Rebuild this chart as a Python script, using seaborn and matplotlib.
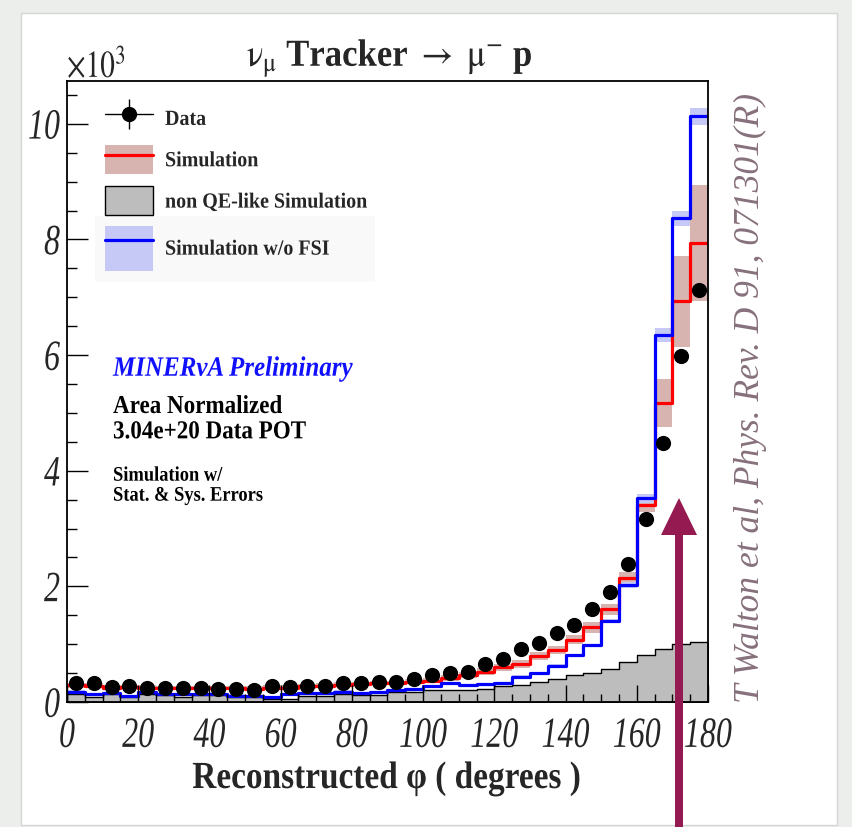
import numpy as np
import matplotlib
matplotlib.use("Agg")
import matplotlib.pyplot as plt
import seaborn as sns
from matplotlib.patches import Patch, Rectangle, Polygon
from matplotlib.lines import Line2D
from matplotlib.legend_handler import HandlerTuple
from matplotlib.patheffects import AbstractPathEffect
from matplotlib.transforms import Affine2D
from matplotlib.ticker import MultipleLocator

# --- values (units of 10^3 events per 5 degree bin) ---
bin_width = 5
bin_lo = np.arange(0, 180, bin_width)
bin_edges = [float(e) for e in np.append(bin_lo, 180)]
bin_centers = bin_lo + bin_width / 2

data_vals = [0.33, 0.32, 0.26, 0.28, 0.25, 0.24, 0.24, 0.24, 0.22, 0.22,
             0.21, 0.27, 0.26, 0.27, 0.28, 0.33, 0.32, 0.35, 0.35, 0.39,
             0.46, 0.50, 0.52, 0.65, 0.74, 0.92, 1.02, 1.19, 1.33, 1.61,
             1.90, 2.38, 3.17, 4.48, 5.99, 7.12]
sim_vals = [0.29, 0.28, 0.25, 0.26, 0.25, 0.24, 0.24, 0.24, 0.24, 0.24,
            0.23, 0.25, 0.25, 0.27, 0.28, 0.30, 0.31, 0.33, 0.33, 0.35,
            0.37, 0.41, 0.47, 0.52, 0.60, 0.66, 0.79, 0.90, 1.08, 1.29,
            1.60, 2.15, 3.40, 5.17, 6.93, 7.94]
sim_err = [0.04, 0.04, 0.04, 0.04, 0.04, 0.04, 0.04, 0.04, 0.04, 0.04,
           0.04, 0.04, 0.04, 0.04, 0.04, 0.04, 0.04, 0.04, 0.04, 0.04,
           0.05, 0.05, 0.05, 0.06, 0.06, 0.07, 0.07, 0.07, 0.08, 0.09,
           0.10, 0.10, 0.12, 0.42, 0.79, 1.00]
nofsi_vals = [0.18, 0.13, 0.15, 0.10, 0.17, 0.14, 0.13, 0.14, 0.13, 0.11,
              0.10, 0.08, 0.13, 0.16, 0.16, 0.18, 0.16, 0.17, 0.21, 0.23,
              0.28, 0.33, 0.29, 0.31, 0.33, 0.44, 0.50, 0.63, 0.81, 0.99,
              1.40, 2.02, 3.52, 6.34, 8.37, 10.13]
nofsi_err = [0.02, 0.02, 0.02, 0.02, 0.02, 0.02, 0.02, 0.02, 0.02, 0.02,
             0.02, 0.02, 0.02, 0.02, 0.02, 0.02, 0.02, 0.02, 0.02, 0.02,
             0.02, 0.02, 0.02, 0.02, 0.02, 0.02, 0.02, 0.02, 0.02, 0.02,
             0.03, 0.05, 0.08, 0.12, 0.13, 0.15]
nonqe_vals = [0.14, 0.09, 0.14, 0.08, 0.13, 0.12, 0.09, 0.12, 0.12, 0.09,
              0.09, 0.05, 0.06, 0.11, 0.11, 0.13, 0.12, 0.12, 0.17, 0.17,
              0.20, 0.20, 0.21, 0.22, 0.27, 0.30, 0.34, 0.39, 0.46, 0.50,
              0.57, 0.69, 0.81, 0.92, 1.00, 1.03]

legend_labels = ["Data", "Simulation", "non QE-like Simulation", "Simulation w/o FSI"]

RED, BLUE = "#ff0000", "#0000ff"
PINK, LIGHTBLUE, GRAY = "#d8b4b0", "#c6c8f6", "#bdbdbd"
SERIF = "Liberation Serif"


class Stretch(AbstractPathEffect):
    """stretch glyphs vertically (the slide was squeezed sideways)"""
    def __init__(self, sy=1.2, cy=0.0):
        super().__init__()
        self.sy, self.cy = sy, cy

    def draw_path(self, renderer, gc, tpath, affine, rgbFace=None):
        pre = Affine2D().translate(0, -self.cy).scale(1, self.sy).translate(0, self.cy)
        renderer.draw_path(gc, tpath, pre + affine, rgbFace)


sns.set_style("ticks")
plt.rcParams["font.family"] = [SERIF, "DejaVu Serif"]
plt.rcParams["mathtext.fontset"] = "stix"

W, H = 853, 828
fig = plt.figure(figsize=(W / 100, H / 100), dpi=100)
fig.patch.set_facecolor("#eceeec")
fig.add_artist(Rectangle((21 / W, 2 / H), (837 - 21) / W, (814 - 2) / H,
                         transform=fig.transFigure, facecolor="white",
                         edgecolor="#d4d6d4", linewidth=1.0, zorder=0))

ax = fig.add_axes([67 / W, (H - 703) / H, (708 - 67) / W, (703 - 82) / H])
ax.set_facecolor("white")

d = np.array(data_vals)
s, se = np.array(sim_vals), np.array(sim_err)
f, fe = np.array(nofsi_vals), np.array(nofsi_err)

# error bands (one box per bin)
ax.bar(bin_centers, 2 * se, bottom=s - se, width=bin_width, color=PINK, linewidth=0, zorder=1)
ax.bar(bin_centers, 2 * fe, bottom=f - fe, width=bin_width, color=LIGHTBLUE, linewidth=0, zorder=1)

sns.histplot(x=bin_centers, weights=nonqe_vals, bins=bin_edges, element="step", fill=True,
             color=GRAY, edgecolor="black", linewidth=1.0, alpha=1, ax=ax, zorder=1.5)
sns.histplot(x=bin_centers, weights=sim_vals, bins=bin_edges, element="step", fill=False,
             color=RED, linewidth=2.3, ax=ax, zorder=2)
sns.histplot(x=bin_centers, weights=nofsi_vals, bins=bin_edges, element="step", fill=False,
             color=BLUE, linewidth=2.3, ax=ax, zorder=2.1)
sns.scatterplot(x=bin_centers, y=d, color="black", s=120, linewidth=0, ax=ax, zorder=5)

ax.set_xlim(0, 180)
ax.set_ylim(0, 10.74)
ax.set_xlabel("")
ax.set_ylabel("")
ax.set_axisbelow(False)
ax.xaxis.set_major_locator(MultipleLocator(20))
ax.xaxis.set_minor_locator(MultipleLocator(5))
ax.yaxis.set_major_locator(MultipleLocator(2))
ax.yaxis.set_minor_locator(MultipleLocator(0.5))
ax.tick_params(axis="both", which="both", direction="in", top=False, right=False,
               width=1.0, color="black", labelsize=23)
ax.tick_params(axis="y", which="major", length=15, pad=5)
ax.tick_params(axis="y", which="minor", length=7.5)
ax.tick_params(axis="x", which="major", length=12, pad=11)
ax.tick_params(axis="x", which="minor", length=6)
for sp in ax.spines.values():
    sp.set_linewidth(1.3)
    sp.set_color("black")
    sp.set_visible(True)
for lab in ax.get_xticklabels():
    lab.set_fontstyle("italic")
    lab.set_path_effects([Stretch(1.35, 68)])
for lab in ax.get_yticklabels():
    lab.set_fontstyle("italic")
    lab.set_path_effects([Stretch(1.35, 34)])

# legend
leg_prop = dict(family=SERIF, weight="bold", size=14.4)
h_data = (Line2D([], [], color="black", lw=1.0),
          Line2D([], [], color="black", marker="o", ms=10, ls="none"),
          Line2D([], [], color="black", marker="|", ms=21, mew=1.0, ls="none"))
h_sim = (Patch(facecolor=PINK, edgecolor="none"), Line2D([], [], color=RED, lw=2.3))
h_bkg = Patch(facecolor=GRAY, edgecolor="black", linewidth=1.0)
h_fsi = (Patch(facecolor=LIGHTBLUE, edgecolor="none"), Line2D([], [], color=BLUE, lw=2.3))
overlay = {tuple: HandlerTuple(ndivide=1, pad=0)}

leg1 = ax.legend([h_data, h_sim, h_bkg], legend_labels[:3], loc="upper left",
                 bbox_to_anchor=(0.0593, 0.9638), borderaxespad=0, borderpad=0,
                 frameon=False, prop=leg_prop, handlelength=2.4, handleheight=1.85,
                 labelspacing=0.62, handletextpad=0.6, handler_map=overlay)
ax.add_artist(leg1)
ax.add_patch(Rectangle((0.0437, 0.6763), 0.437, 0.1063, transform=ax.transAxes,
                       facecolor="#f9f9f9", edgecolor="none", zorder=0.5))
leg2 = ax.legend([h_fsi], legend_labels[3:], loc="upper left",
                 bbox_to_anchor=(0.0593, 0.7665), borderaxespad=0, borderpad=0,
                 frameon=False, prop=leg_prop, handlelength=2.4, handleheight=3.05,
                 handletextpad=0.6, handler_map=overlay)
for lg in (leg1, leg2):
    for t in lg.get_texts():
        t.set_path_effects([Stretch(1.08, 33)])

# annotations inside the frame
def ax_note(y, txt, size, color="black", style="normal"):
    ax.text(0.0718, y, txt, transform=ax.transAxes, ha="left", va="baseline",
            fontsize=size, fontweight="bold", fontstyle=style, color=color,
            path_effects=[Stretch(1.12, 0)])

ax_note(0.5254, "MINERνA Preliminary", 18, color="#1010ff", style="italic")
ax_note(0.4654, "Area Normalized", 16.6)
ax_note(0.4246, "3.04e+20 Data POT", 16.6)
ax_note(0.3564, "Simulation w/", 13.3)
ax_note(0.3242, "Stat. & Sys. Errors", 13.3)

# title, axis label, exponent
fig.text(390 / W, (H - 67) / H, r"$\mathrm{\nu_{\mu}}$ Tracker $\rightarrow$ $\mathrm{\mu^{-}}$ p",
         ha="center", va="baseline", fontsize=25, fontweight="bold",
         path_effects=[Stretch(1.1, 0)])
fig.text(387 / W, (H - 789) / H, "Reconstructed φ ( degrees )", ha="center", va="baseline",
         fontsize=24, fontweight="bold", path_effects=[Stretch(1.15, 0)])
fig.text(67 / W, (H - 78) / H, r"$\times\mathit{10}^{3}$", ha="left", va="baseline",
         fontsize=21, path_effects=[Stretch(1.3, 0)])

# reference note on the right
fig.text(750 / W, (H - 398) / H, "T Walton et al, Phys. Rev. D 91, 071301(R)",
         rotation=90, ha="center", va="center", fontsize=25.5, fontstyle="italic",
         color="#86707c")

# arrow pointing at the peak
cx, hw, sw = 679, 18, 4
arrow_px = [(cx - sw, 828), (cx - sw, 536), (cx - hw, 536), (cx, 499),
            (cx + hw, 536), (cx + sw, 536), (cx + sw, 828)]
fig.add_artist(Polygon([(x / W, (H - y) / H) for x, y in arrow_px], closed=True,
                       transform=fig.transFigure, facecolor="#951a52",
                       edgecolor="none", zorder=10))

fig.savefig("out.png", dpi=100, facecolor=fig.get_facecolor())
